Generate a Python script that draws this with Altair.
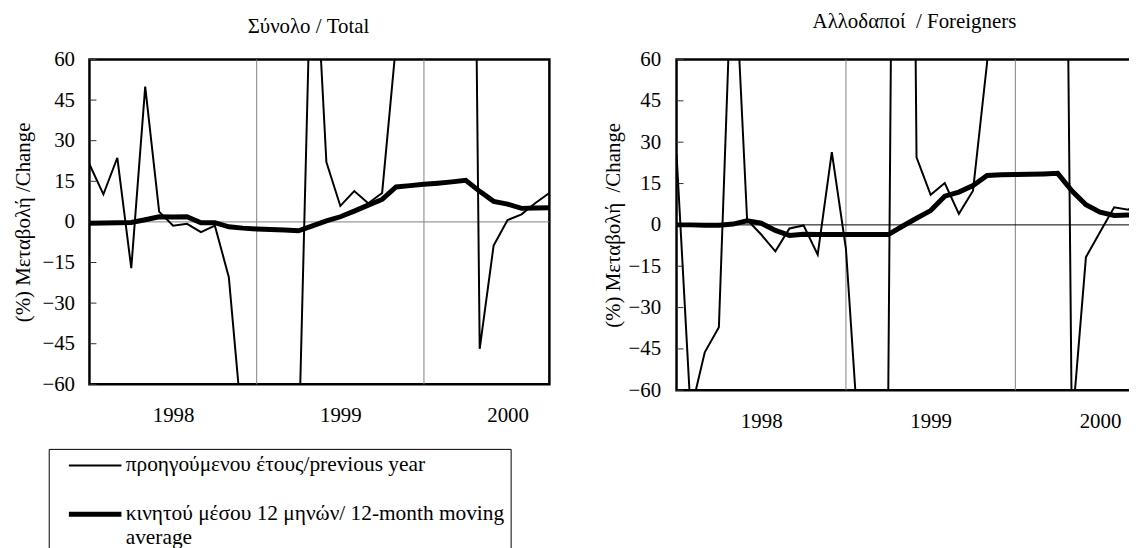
import altair as alt
import pandas as pd

# ---------------- data ----------------
MONTHS = list(range(34))            # month index: 0 = Jan 1998 ... 33 = Oct 2000
YEARS = ["1998", "1999", "2000"]
YEAR_CENTERS = [6, 18, 30]          # label positions (middle of each year)
YEAR_BREAKS = [12, 24]              # vertical gridlines between years
Y_TICKS = [-60, -45, -30, -15, 0, 15, 30, 45, 60]

SERIES_PREV = "προηγούμενου έτους/previous year"
SERIES_AVG = "κινητού μέσου 12 μηνών/ 12-month moving average"
AVG_LINE1 = "κινητού μέσου 12 μηνών/ 12-month moving"
AVG_LINE2 = "average"

TITLE_TOTAL = "Σύνολο / Total"
TITLE_FOREIGN = "Αλλοδαποί \u00a0/ Foreigners"
YTITLE_TOTAL = "(%) Μεταβολή /Change"
YTITLE_FOREIGN = "(%) Μεταβολή \u00a0/Change"

TOTAL_PREV = [21.3, 10.2, 23.7, -17.1, 50.0, 3.8, -1.4, -0.7, -3.8, -1.4,
              -20.4, -78.0, -95.0, -110.0, -100.0, -86.0, 120.0, 22.1, 5.9, 11.4,
              6.9, 10.7, 66.0, 150.0, 200.0, 250.0, 300.0, 450.0, -46.9, -8.7,
              0.7, 2.8, 7.0, 10.7]
TOTAL_AVG = [-0.5, -0.4, -0.3, -0.2, 0.8, 1.9, 1.8, 1.9, -0.3, -0.3,
             -1.8, -2.3, -2.6, -2.8, -3.0, -3.3, -1.5, 0.4, 1.9, 4.0,
             6.2, 8.3, 12.9, 13.4, 13.9, 14.3, 14.8, 15.4, 11.3, 7.6,
             6.6, 5.0, 5.1, 5.2]

FOREIGN_PREV = [25.7, -68.0, -46.2, -37.1, 108.0, 1.8, -3.5, -9.6, -1.3, -0.2,
                -10.8, 26.4, -8.7, -86.0, -75.0, -59.5, 600.0, 24.5, 10.9, 15.2,
                4.0, 12.4, 59.0, 400.0, 300.0, 250.0, 300.0, 465.0, -74.0, -11.7,
                -2.6, 6.4, 5.5, 10.0]
FOREIGN_AVG = [0.0, 0.0, -0.1, -0.1, 0.3, 1.5, 0.6, -2.0, -3.8, -3.4,
               -3.5, -3.5, -3.5, -3.5, -3.5, -3.5, -0.5, 2.4, 5.2, 10.4,
               11.9, 14.3, 17.9, 18.2, 18.3, 18.4, 18.5, 18.7, 12.4, 7.3,
               4.6, 3.4, 3.6, 3.6]

FONT = "Liberation Serif"
FS = 21
LEGEND_FS = 21.5

year_arr = "[" + ",".join("'%s'" % y for y in YEARS) + "]"
x_label_expr = "%s[round((datum.value - %d) / 12)]" % (year_arr, YEAR_CENTERS[0])
legend_label_expr = "datum.label === '%s' ? ['%s', '%s'] : datum.label" % (
    SERIES_AVG, AVG_LINE1, AVG_LINE2)

# legend sample: a horizontal stroke path (longer than the unit box)
LEGEND_SYMBOL = "M-5,0H5"


def panel(prev, avg, title, ytitle, zero_color, width, height,
          title_dx, title_offset, y_label_pad, y_title_pad, show_legend):
    df_prev = pd.DataFrame({"m": MONTHS, "v": prev, "s": SERIES_PREV})
    df_avg = pd.DataFrame({"m": MONTHS, "v": avg, "s": SERIES_AVG})

    xscale = alt.Scale(domain=[0, 33], nice=False, zero=False)
    yscale = alt.Scale(domain=[-60, 60], nice=False)

    x_axis = alt.Axis(values=YEAR_CENTERS, labelExpr=x_label_expr,
                      ticks=False, grid=False, domain=False, title=None,
                      labelPadding=20, labelFlush=False)
    y_axis = alt.Axis(values=Y_TICKS, ticks=False, grid=False,
                      domain=False, title=ytitle, labelPadding=y_label_pad,
                      titlePadding=y_title_pad)

    def xe():
        return alt.X("m:Q", scale=xscale, axis=x_axis)

    def ye():
        return alt.Y("v:Q", scale=yscale, axis=y_axis)

    if show_legend:
        legend = alt.Legend(orient="none", legendX=-41, legendY=392, title=None,
                            symbolType=LEGEND_SYMBOL, symbolSize=112,
                            symbolStrokeColor="black", labelFont=FONT,
                            labelFontSize=LEGEND_FS, labelColor="black",
                            labelLimit=2000, strokeColor="black",
                            fillColor="white", padding=6,
                            symbolOffset=30, rowPadding=26, labelOffset=20,
                            labelExpr=legend_label_expr)
    else:
        legend = None

    sw = alt.StrokeWidth("s:N",
                         scale=alt.Scale(type="ordinal",
                                         domain=[SERIES_PREV, SERIES_AVG],
                                         range=[2.0, 5.0]),
                         legend=legend)

    grid = alt.Chart(pd.DataFrame({"m": YEAR_BREAKS})).mark_rule(
        color="#808080", strokeWidth=1).encode(x=xe())
    zero = alt.Chart(pd.DataFrame({"v": [0]})).mark_rule(
        color=zero_color, strokeWidth=1).encode(y=ye())
    ticks = alt.Chart(pd.DataFrame({"v": Y_TICKS})).mark_rule(
        color="#333333", strokeWidth=1).encode(
        y=ye(), x=alt.value(0), x2=alt.value(7))

    thin = alt.Chart(df_prev).mark_line(color="black", clip=True).encode(
        x=xe(), y=ye(), strokeWidth=sw)
    thick = alt.Chart(df_avg).mark_line(color="black", clip=True).encode(
        x=xe(), y=ye(), strokeWidth=sw)

    return alt.layer(grid, zero, ticks, thin, thick).properties(
        width=width, height=height,
        title=alt.TitleParams(title, font=FONT, fontSize=FS, fontWeight="normal",
                              color="black", anchor="middle", frame="group",
                              dx=title_dx, offset=title_offset))


left = panel(TOTAL_PREV, TOTAL_AVG, TITLE_TOTAL, YTITLE_TOTAL, "#808080",
             463, 327, -11, 12, 15, 9, True)
right = panel(FOREIGN_PREV, FOREIGN_AVG, TITLE_FOREIGN, YTITLE_FOREIGN, "black",
              469, 333, 5, 16.5, 16, 5, False)

# the right panel runs off the page edge in the reference: crop it there
chart = alt.hconcat(left, right, spacing=49).resolve_scale(
    x="independent", y="independent", strokeWidth="independent"
).resolve_legend(strokeWidth="independent").configure(
    padding={"left": 2, "top": 0, "right": -15.5, "bottom": 0}
).configure_view(stroke="black", strokeWidth=2.5).configure_axis(
    labelFont=FONT, labelFontSize=FS, labelColor="black",
    titleFont=FONT, titleFontSize=FS, titleFontWeight="normal", titleColor="black"
)

chart.save("out.html", embed_options={"renderer": "svg", "actions": False})
